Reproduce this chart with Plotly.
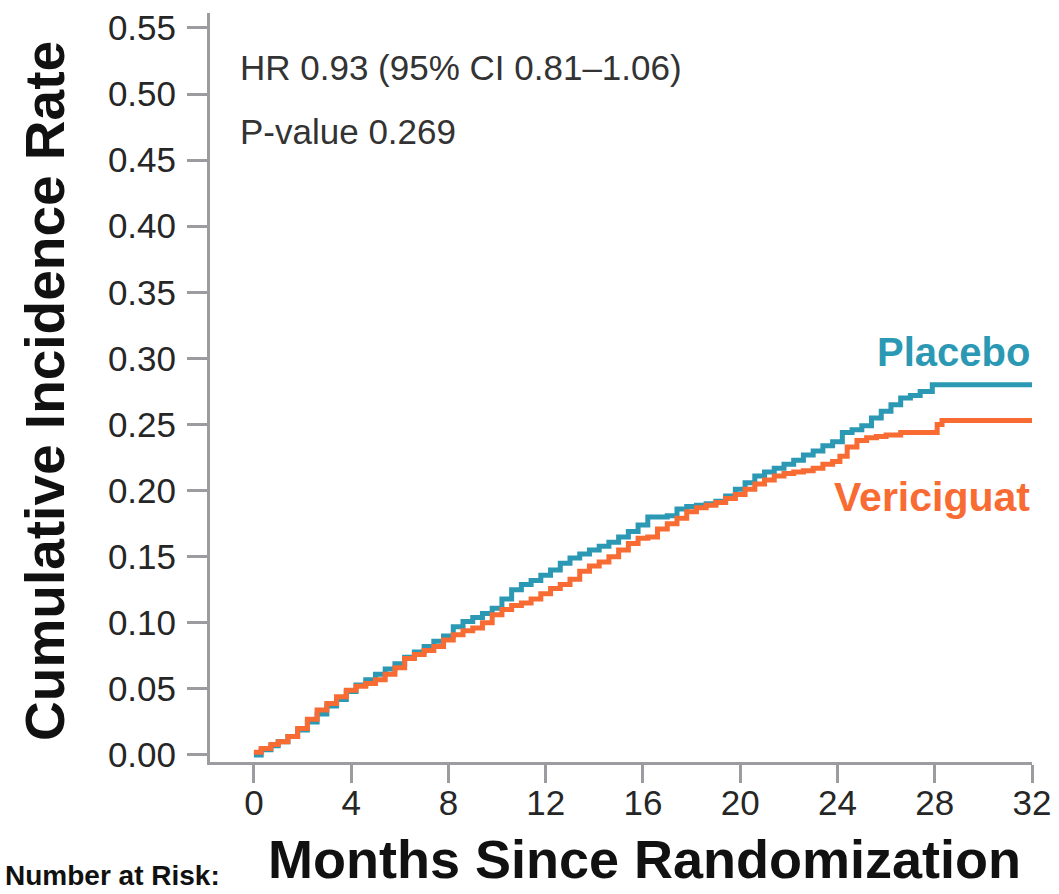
import plotly.graph_objects as go

# Cumulative incidence (step curves) by treatment arm
placebo_months = [0.0, 0.3, 0.7, 1.0, 1.4, 1.8, 2.2, 2.6, 3.0, 3.4, 3.8, 4.2, 4.6, 5.0, 5.4, 5.8,
                  6.2, 6.6, 7.0, 7.4, 7.8, 8.2, 8.6, 9.0, 9.4, 9.8, 10.2, 10.6, 11.0, 11.4, 11.8,
                  12.2, 12.6, 13.0, 13.4, 13.8, 14.2, 14.6, 15.0, 15.4, 15.8, 16.2, 16.6, 17.0,
                  17.4, 17.8, 18.2, 18.6, 19.0, 19.4, 19.8, 20.2, 20.6, 21.0, 21.4, 21.8, 22.2,
                  22.6, 23.0, 23.4, 23.8, 24.2, 24.6, 25.0, 25.4, 25.8, 26.2, 26.6, 27.0, 27.4,
                  27.9, 32.0]
placebo_rate = [0.000, 0.004, 0.007, 0.010, 0.014, 0.019, 0.025, 0.031, 0.037, 0.042, 0.048,
                0.053, 0.057, 0.061, 0.065, 0.069, 0.074, 0.078, 0.082, 0.086, 0.090, 0.097,
                0.101, 0.104, 0.107, 0.111, 0.118, 0.125, 0.129, 0.132, 0.136, 0.140, 0.145,
                0.149, 0.152, 0.155, 0.158, 0.161, 0.165, 0.169, 0.174, 0.180, 0.180, 0.181,
                0.186, 0.188, 0.189, 0.190, 0.192, 0.196, 0.201, 0.206, 0.211, 0.214, 0.217,
                0.220, 0.223, 0.227, 0.230, 0.234, 0.237, 0.244, 0.246, 0.249, 0.255, 0.260,
                0.265, 0.270, 0.272, 0.275, 0.280, 0.280]

vericiguat_months = [0.0, 0.3, 0.7, 1.0, 1.4, 1.8, 2.2, 2.6, 3.0, 3.4, 3.8, 4.2, 4.6, 5.0, 5.4,
                     5.8, 6.2, 6.6, 7.0, 7.4, 7.8, 8.2, 8.6, 9.0, 9.4, 9.8, 10.2, 10.6, 11.0,
                     11.4, 11.8, 12.2, 12.6, 13.0, 13.4, 13.8, 14.2, 14.6, 15.0, 15.4, 15.8,
                     16.2, 16.6, 17.0, 17.4, 17.8, 18.2, 18.6, 19.0, 19.4, 19.8, 20.2, 20.6,
                     21.0, 21.4, 21.8, 22.2, 22.6, 23.0, 23.4, 23.8, 24.1, 24.4, 24.8, 25.2,
                     25.6, 26.0, 26.6, 28.1, 28.3, 32.0]
vericiguat_rate = [0.002, 0.005, 0.008, 0.010, 0.014, 0.020, 0.027, 0.034, 0.039, 0.044, 0.049,
                   0.052, 0.054, 0.057, 0.061, 0.066, 0.073, 0.076, 0.079, 0.082, 0.087, 0.091,
                   0.094, 0.096, 0.100, 0.106, 0.110, 0.113, 0.115, 0.118, 0.122, 0.126, 0.129,
                   0.133, 0.139, 0.143, 0.146, 0.150, 0.155, 0.160, 0.164, 0.165, 0.171, 0.175,
                   0.179, 0.184, 0.187, 0.189, 0.191, 0.194, 0.197, 0.201, 0.205, 0.208, 0.211,
                   0.213, 0.214, 0.215, 0.217, 0.220, 0.222, 0.226, 0.233, 0.238, 0.240, 0.241,
                   0.242, 0.244, 0.250, 0.253, 0.253]

x_ticks = [0, 4, 8, 12, 16, 20, 24, 28, 32]
y_ticks = [0.00, 0.05, 0.10, 0.15, 0.20, 0.25, 0.30, 0.35, 0.40, 0.45, 0.50, 0.55]

TEAL = "#2B98B4"
ORANGE = "#F86B33"
AXIS = "#9b9ba0"
FONT = "Liberation Sans, Arial, sans-serif"

W, H = 1059, 894
ML, MR, MT, MB = 210, 25, 8, 132
PW, PH = W - ML - MR, H - MT - MB


def px(x):
    return (x - ML) / PW


def py(y):
    return (H - MB - y) / PH


fig = go.Figure()
fig.add_trace(go.Scatter(x=placebo_months, y=placebo_rate, mode="lines", name="Placebo",
                         line=dict(color=TEAL, width=5, shape="hv")))
fig.add_trace(go.Scatter(x=vericiguat_months, y=vericiguat_rate, mode="lines", name="Vericiguat",
                         line=dict(color=ORANGE, width=5, shape="hv")))

fig.update_layout(
    width=W, height=H,
    margin=dict(l=ML, r=MR, t=MT, b=MB),
    plot_bgcolor="white", paper_bgcolor="white",
    showlegend=False,
    font=dict(family=FONT, color="#222222"),
)
fig.update_xaxes(range=[-1.805, 32], tickvals=x_ticks, ticktext=[str(v) for v in x_ticks],
                 showline=True, linecolor=AXIS, linewidth=3, mirror=False,
                 ticks="outside", ticklen=18, tickwidth=3, tickcolor=AXIS,
                 ticklabelstandoff=-10,
                 tickfont=dict(size=35, color="#262626", family=FONT),
                 showgrid=False, zeroline=False)
fig.update_yaxes(range=[-0.0053, 0.5613], tickvals=y_ticks,
                 ticktext=[f"{v:.2f}" for v in y_ticks],
                 showline=True, linecolor=AXIS, linewidth=3,
                 ticks="outside", ticklen=20, tickwidth=3, tickcolor=AXIS,
                 ticklabelstandoff=4,
                 tickfont=dict(size=35, color="#262626", family=FONT),
                 showgrid=False, zeroline=False)

annos = [
    dict(text="<b>Cumulative Incidence Rate</b>", x=px(45), y=py(388), textangle=-90,
         font=dict(size=55, color="#111111")),
    dict(text="<b>Months Since Randomization</b>", x=px(646), y=py(860),
         font=dict(size=54, color="#111111")),
    dict(text="<b>Number at Risk:</b>", x=px(2), y=py(894), xanchor="left", yanchor="bottom",
         font=dict(size=28, color="#111111")),
    dict(text="HR 0.93 (95% CI 0.81\u20131.06)", x=px(238), y=py(63), xanchor="left",
         font=dict(size=35, color="#333333")),
    dict(text="P-value 0.269", x=px(238), y=py(127), xanchor="left",
         font=dict(size=35, color="#333333")),
    dict(text="<b>Placebo</b>", x=px(1034), y=py(349), xanchor="right",
         font=dict(size=40, color=TEAL)),
    dict(text="<b>Vericiguat</b>", x=px(1034), y=py(495), xanchor="right",
         font=dict(size=41, color=ORANGE)),
]
for a in annos:
    a.setdefault("xanchor", "center")
    a.setdefault("yanchor", "middle")
    fig.add_annotation(xref="paper", yref="paper", showarrow=False, **a)

fig.write_html("out.html")
